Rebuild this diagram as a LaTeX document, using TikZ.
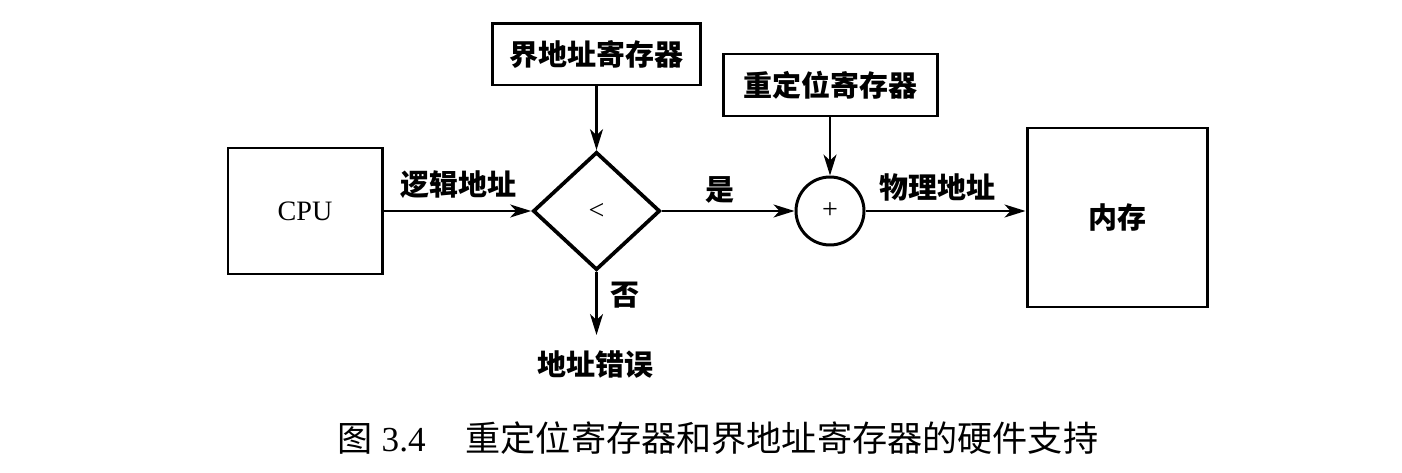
\documentclass[tikz,border=0pt]{standalone}
\usepackage{fontspec}
\setmainfont{Liberation Serif}
\newfontfamily\cjk{Noto Sans CJK SC}
\usepackage{tikz}
\usetikzlibrary{positioning,shapes.geometric,arrows.meta}

\begin{document}
\begin{tikzpicture}[
    >={Stealth[length=4.2mm,width=2.6mm,inset=1.2mm]},
    font=\fontsize{16}{18}\selectfont,
    box/.style={
        draw=black,
        line width=1.7pt,
        inner sep=0pt,
        align=center
    },
    cmpbox/.style={
        draw=black,
        diamond,
        aspect=1,
        line width=2.1pt,
        inner sep=0pt,
        minimum width=2.54cm,
        minimum height=2.36cm
    },
    sumbox/.style={
        draw=black,
        circle,
        line width=1.7pt,
        inner sep=0pt,
        minimum size=1.36cm
    },
    lbl/.style={
        font=\fontsize{16.5}{18}\selectfont\cjk\bfseries,
        inner sep=0pt
    },
    arr/.style={->, line width=1.2pt}
]

\useasboundingbox (0,0) rectangle (28.04,9.44);

% main row
\node[box, minimum width=3.08cm, minimum height=2.52cm] (cpu) at (6.10,5.22) {CPU};
\node[cmpbox] (cmp) at (11.93,5.22) {<};
\node[sumbox] (adder) at (16.60,5.22) {+};
\node[box, lbl, minimum width=3.60cm, minimum height=3.58cm] (mem) at (22.34,5.09) {内存};

% registers
\node[box, lbl, minimum width=4.16cm, minimum height=1.22cm] (limreg) at (11.93,8.35) {界地址寄存器};
\node[box, lbl, minimum width=4.28cm, minimum height=1.24cm] (relreg) at (16.60,7.74) {重定位寄存器};

% labels
\node[lbl] (logic) at (9.16,5.74) {逻辑地址};
\node[lbl] (yes) at (14.40,5.64) {是};
\node[lbl] (phys) at (18.74,5.70) {物理地址};
\node[lbl] (no) at (12.50,3.54) {否};
\node[lbl] (err) at (11.90,2.14) {地址错误};
\coordinate (errend) at (11.93,2.74);

\draw[arr] (cpu) -- (cmp);
\draw[arr] (limreg) -- (cmp);
\draw[arr] (cmp) -- (adder);
\draw[arr] (relreg) -- (adder);
\draw[arr] (adder) -- (adder -| mem.west);
\draw[arr] (cmp.south) -- (errend);

% caption
\node[font=\fontsize{20}{22}\selectfont, inner sep=0pt] (cap) at (14.36,0.68)
{{\cjk 图} 3.4\hspace{0.8cm}{\cjk 重定位寄存器和界地址寄存器的硬件支持}};

\end{tikzpicture}
\end{document}
